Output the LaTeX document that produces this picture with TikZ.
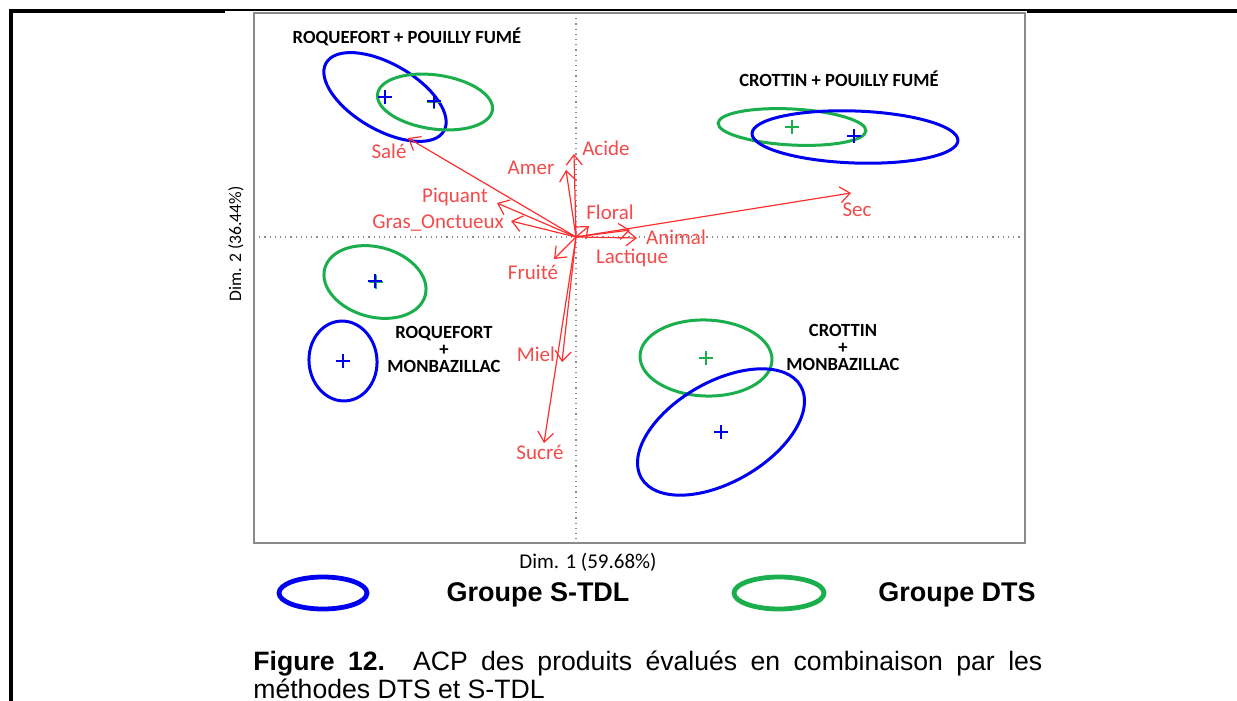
\documentclass[tikz,border=0pt]{standalone}
\usepackage{fontspec}
\setmainfont{Liberation Sans}
\newfontfamily\calfont{Carlito}
\usetikzlibrary{arrows.meta}
\definecolor{pblue}{HTML}{0000F0}
\definecolor{pgreen}{HTML}{1AAE4C}
\definecolor{pred}{HTML}{FF2E2E}
\definecolor{lred}{HTML}{F44A4A}
\definecolor{axgray}{HTML}{8A8A8A}
\tikzset{
  ell/.style={line width=1.5pt},
  bl/.style={ell,draw=pblue},
  gr/.style={ell,draw=pgreen},
  var/.style={draw=pred,line width=0.6pt,-{Straight Barb[length=5pt,width=8pt]}},
  vlab/.style={text=lred,font=\calfont\fontsize{10.5pt}{12pt}\selectfont,inner sep=0pt},
  grp/.style={font=\calfont\bfseries\fontsize{9.3pt}{10pt}\selectfont,inner sep=0pt,align=center},
  leg/.style={font=\bfseries\fontsize{13.5pt}{15pt}\selectfont,inner sep=0pt},
  pics/plus/.style={code={\draw[line width=1pt] (-7,0)--(7,0) (0,-7)--(0,7);}},
}
\begin{document}
\begin{tikzpicture}[x=0.5pt,y=-0.5pt]
\useasboundingbox (0,0) rectangle (1237,701);
% outer frame
\draw[line width=1.6pt] (11,701) -- (11,11) -- (225,11);
\draw[line width=0.6pt] (225,10) -- (1027,10);
\draw[line width=1.6pt] (1027,11) -- (1237,11);
% plot frame
\draw[draw=axgray,line width=1pt] (254,13) rectangle (1025,543);
\draw[draw=axgray,line width=0.6pt,dotted] (576,13) -- (576,543);
\draw[draw=axgray,line width=0.6pt,dotted] (254,237) -- (1025,237);
% axis labels
\node[font=\calfont\fontsize{10.5pt}{12pt}\selectfont,inner sep=0pt] (d1) at (588,562) {Dim. 1 (59.68\%)};
\node[font=\calfont\fontsize{8.8pt}{10pt}\selectfont,inner sep=0pt,rotate=90] (d2) at (236,244) {Dim. 2 (36.44\%)};
% group titles
\node[grp] (t1) at (407,37) {ROQUEFORT + POUILLY FUMÉ};
\node[grp] (t2) at (839,79) {CROTTIN + POUILLY FUMÉ};
\node[grp] (t3) at (444,349) {ROQUEFORT\\[-1.5pt]+\\[-1.5pt]MONBAZILLAC};
\node[grp] (t4) at (843,347) {CROTTIN\\[-1.5pt]+\\[-1.5pt]MONBAZILLAC};
% ellipses
\draw[bl,rotate around={-30:(385,97)}] (385,97) ellipse [x radius=68,y radius=33];
\draw[gr,rotate around={-8:(435,102)}] (435,102) ellipse [x radius=58,y radius=27];
\draw[gr,rotate around={-3:(792,127)}] (792,127) ellipse [x radius=74,y radius=18];
\draw[bl,rotate around={-2:(855,137)}] (855,137) ellipse [x radius=103,y radius=26];
\draw[gr,rotate around={-15:(375,282)}] (375,282) ellipse [x radius=52,y radius=35];
\draw[bl,rotate around={5:(343,361)}] (343,361) ellipse [x radius=34,y radius=40];
\draw[gr,rotate around={-2:(706,358)}] (706,358) ellipse [x radius=66,y radius=38];
\draw[bl,rotate around={30:(721,432)}] (721,432) ellipse [x radius=92,y radius=50];
% centres
\pic[draw=pblue] at (385,97) {plus};
\pic[draw=pgreen] at (434,102) {plus};
\pic[draw=pblue] at (434,101) {plus};
\pic[draw=pgreen] at (792,127) {plus};
\pic[draw=pblue] at (854,136) {plus};
\pic[draw=pgreen] at (376,282) {plus};
\pic[draw=pblue] at (375,281) {plus};
\pic[draw=pblue] at (343,361) {plus};
\pic[draw=pgreen] at (706,358) {plus};
\pic[draw=pblue] at (721,432) {plus};
% variables
\coordinate (O) at (576,237);
\coordinate (vSale) at (408,138);
\coordinate (vAcide) at (574,154);
\coordinate (vAmer) at (566,170);
\coordinate (vPiq) at (497,203);
\coordinate (vGras) at (511,221);
\coordinate (vFloral) at (589,226);
\coordinate (vSec) at (851,193);
\coordinate (vLact) at (630,230);
\coordinate (vAnimal) at (637,238);
\coordinate (vFruit) at (554,259);
\coordinate (vMiel) at (562,362);
\coordinate (vSucre) at (544,443);
\foreach \v in {vSale,vAcide,vAmer,vPiq,vGras,vFloral,vSec,vLact,vAnimal,vFruit,vMiel,vSucre}
  \draw[var] (O) -- (\v);
\node[vlab] (lSale) at (389,151) {Salé};
\node[vlab] (lAcide) at (606,148) {Acide};
\node[vlab] (lAmer) at (531,168) {Amer};
\node[vlab] (lPiq) at (455,197) {Piquant};
\node[vlab] (lGras) at (438,223) {Gras\_Onctueux};
\node[vlab] (lFloral) at (610,212) {Floral};
\node[vlab] (lAnimal) at (676,237) {Animal};
\node[vlab] (lLact) at (632,258) {Lactique};
\node[vlab] (lSec) at (857,210) {Sec};
\node[vlab] (lFruit) at (533,272) {Fruité};
\node[vlab] (lMiel) at (536,354) {Miel};
\node[vlab] (lSucre) at (540,452) {Sucré};
% legend
\draw[draw=pblue,line width=2.4pt] (323,593) ellipse [x radius=44,y radius=16];
\node[leg] (g1) at (538,595) {Groupe S-TDL};
\draw[draw=pgreen,line width=2.4pt] (779,593) ellipse [x radius=45,y radius=16];
\node[leg] (g2) at (957,595) {Groupe DTS};
% caption
\node[anchor=north west,inner sep=0pt,text width=394.5pt,align=justify,font=\fontsize{13.3pt}{14pt}\selectfont] (cap) at (253,651)
  {\textbf{Figure 12.} ACP des produits évalués en combinaison par les\linebreak méthodes DTS et S-TDL};
\end{tikzpicture}
\end{document}
